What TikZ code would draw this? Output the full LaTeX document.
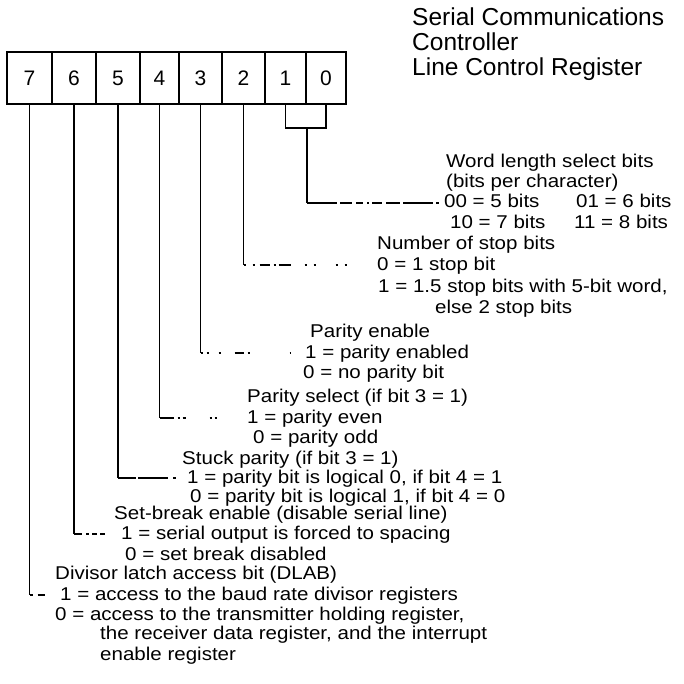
\documentclass[tikz,border=0pt]{standalone}
\usepackage{fontspec}
\setmainfont{Liberation Sans}
\newfontfamily\lblfont{Liberation Sans}[FakeStretch=1.11]
\begin{document}
\begin{tikzpicture}[x=1pt,y=-1pt,
  reg/.style={draw,line width=1.6pt,minimum height=52pt,inner sep=0pt,
    font=\fontsize{21}{21}\selectfont},
  lbl/.style={anchor=base west,inner sep=0pt,text height=13pt,text depth=4pt,
    font=\lblfont\fontsize{18.5}{20}\selectfont},
  ttl/.style={anchor=base west,inner sep=0pt,font=\fontsize{24.5}{26}\selectfont},
  stem/.style={line width=1.6pt},
  leader/.style={line width=1.4pt}]
\useasboundingbox (0,0) rectangle (683,684);

% title
\node[ttl] (h1) at (412,26) {Serial Communications};
\node[ttl] (h2) at (412,51) {Controller};
\node[ttl] (h3) at (412,76) {Line Control Register};

% register cells
\node[reg,minimum width=45pt] (c7) at (29.5,78) {7};
\node[reg,minimum width=44pt] (c6) at (74,78) {6};
\node[reg,minimum width=44pt] (c5) at (118,78) {5};
\node[reg,minimum width=39pt] (c4) at (159.5,78) {4};
\node[reg,minimum width=43pt] (c3) at (200.5,78) {3};
\node[reg,minimum width=43pt] (c2) at (243.5,78) {2};
\node[reg,minimum width=41pt] (c1) at (285.5,78) {1};
\node[reg,minimum width=40pt] (c0) at (326,78) {0};

% bits 1-0: word length
\node[lbl] (t1a) at (446,168) {Word length select bits};
\node[lbl] (t1b) at (446,188) {(bits per character)};
\node[lbl] (t1c) at (444,208) {00 = 5 bits};
\node[lbl] (t1d) at (576,208) {01 = 6 bits};
\node[lbl] (t1e) at (450,229) {10 = 7 bits};
\node[lbl] (t1f) at (574,229) {11 = 8 bits};
\coordinate (j10) at (307,128);
\coordinate (k10) at (307,203);
\draw[stem] (c1.south) |- (j10) -| (c0.south);
\draw[stem] (j10) -- (k10);
\draw[leader,dash pattern=on 30pt off 3pt on 12pt off 4pt on 7pt off 4pt on 2pt off 3pt on 10pt off 4pt on 14pt off 3pt,
  shorten >=5pt] (k10) -- (k10 -| t1c.west);

% bit 2: stop bits
\node[lbl] (t2a) at (377,250) {Number of stop bits};
\node[lbl] (t2b) at (377,270) {0 = 1 stop bit};
\node[lbl] (t2c) at (378,292) {1 = 1.5 stop bits with 5-bit word,};
\node[lbl] (t2d) at (435,313) {else 2 stop bits};
\coordinate (k2) at (243.5,265);
\draw[stem] (c2.south) -- (k2);
\draw[leader,dash pattern=on 2pt off 7pt on 2pt off 5pt on 10pt off 4pt on 2pt off 3pt on 12pt off 14pt on 2pt off 7pt on 2pt off 20pt,
  shorten >=26pt] (k2) -- (k2 -| t2b.west);

% bit 3: parity enable
\node[lbl] (t3a) at (310,337) {Parity enable};
\node[lbl] (t3b) at (305,358) {1 = parity enabled};
\node[lbl] (t3c) at (303,378) {0 = no parity bit};
\coordinate (k3) at (200.5,353);
\draw[stem] (c3.south) -- (k3);
\draw[leader,dash pattern=on 2pt off 4pt on 2pt off 10pt on 2pt off 14pt on 9pt off 4pt on 2pt off 40pt,
  shorten >=14pt] (k3) -- (k3 -| t3b.west);

% bit 4: parity select
\node[lbl] (t4a) at (247,402) {Parity select (if bit 3 = 1)};
\node[lbl] (t4b) at (247,423) {1 = parity even};
\node[lbl] (t4c) at (253,443) {0 = parity odd};
\coordinate (k4) at (159.5,418);
\draw[stem] (c4.south) -- (k4);
\draw[leader,dash pattern=on 14pt off 4pt on 2pt off 3pt on 3pt off 24pt on 2pt off 3pt on 2pt off 40pt,
  shorten >=7pt] (k4) -- (k4 -| t4b.west);

% bit 5: stuck parity
\node[lbl] (t5a) at (182,464) {Stuck parity (if bit 3 = 1)};
\node[lbl] (t5b) at (187,483) {1 = parity bit is logical 0, if bit 4 = 1};
\node[lbl] (t5c) at (190,502) {0 = parity bit is logical 1, if bit 4 = 0};
\coordinate (k5) at (118,478);
\draw[stem] (c5.south) -- (k5);
\draw[leader,dash pattern=on 18pt off 2pt on 30pt off 5pt on 3pt off 40pt,
  shorten >=5pt] (k5) -- (k5 -| t5b.west);

% bit 6: set break
\node[lbl] (t6a) at (114,519) {Set-break enable (disable serial line)};
\node[lbl] (t6b) at (121,539) {1 = serial output is forced to spacing};
\node[lbl] (t6c) at (125,560) {0 = set break disabled};
\coordinate (k6) at (74,534);
\draw[stem] (c6.south) -- (k6);
\draw[leader,dash pattern=on 8pt off 4pt on 3pt off 3pt on 5pt off 3pt on 5pt off 20pt,
  shorten >=8pt] (k6) -- (k6 -| t6b.west);

% bit 7: divisor latch access
\node[lbl] (t7a) at (55,579) {Divisor latch access bit (DLAB)};
\node[lbl] (t7b) at (60,600) {1 = access to the baud rate divisor registers};
\node[lbl] (t7c) at (55,620) {0 = access to the transmitter holding register,};
\node[lbl] (t7d) at (100,639) {the receiver data register, and the interrupt};
\node[lbl] (t7e) at (100,660) {enable register};
\coordinate (k7) at (29.5,595);
\draw[stem] (c7.south) -- (k7);
\draw[leader,dash pattern=on 3pt off 5pt on 7pt off 20pt,
  shorten >=14pt] (k7) -- (k7 -| t7b.west);
\end{tikzpicture}
\end{document}
